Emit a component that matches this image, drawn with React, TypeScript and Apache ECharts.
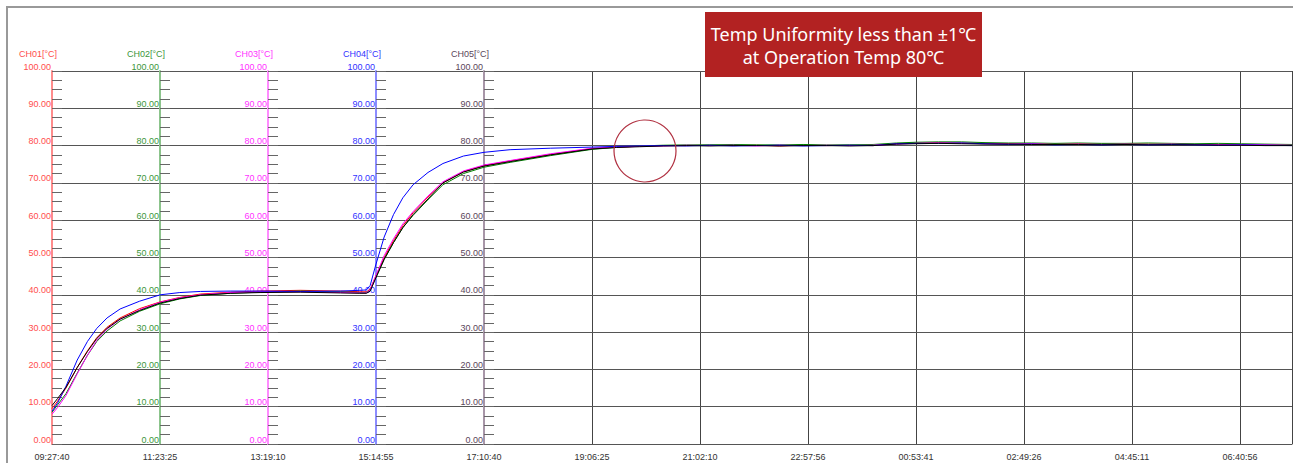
import React, { useEffect, useRef } from "react";
import * as echarts from "echarts";

// elapsed minutes since 09:27:40
const elapsedMin = [
  0, 6, 15, 27, 38, 48, 59, 73, 94, 116, 137, 159, 191, 223, 266, 309, 330, 337, 341, 347,
  356, 366, 376, 387, 403, 419, 441, 463, 491, 534, 579, 605, 630, 655, 680, 705, 730, 755,
  780, 805, 830, 855, 880, 905, 926, 950, 975, 1000, 1025, 1050, 1075, 1100, 1125, 1150,
  1175, 1200, 1225, 1250, 1275, 1300, 1329,
];

const ch01 = [
  9.5, 11.5, 15.0, 20.5, 25.0, 28.5, 31.3, 33.8, 36.3, 38.1, 39.3, 40.2, 40.7, 41.0, 41.2, 41.0, 40.8, 40.8, 41.5, 45.0,
  50.0, 54.5, 58.5, 62.0, 66.2, 70.0, 73.0, 74.6, 75.9, 77.6, 79.2, 79.6, 79.8, 80.0, 80.0, 80.1, 80.0, 80.1,
  79.9, 80.1, 80.0, 80.1, 80.0, 80.5, 80.7, 80.8, 80.7, 80.6, 80.5, 80.5, 80.4, 80.5, 80.4, 80.5,
  80.4, 80.4, 80.3, 80.3, 80.2, 80.2, 80.1,
];
const ch02 = [
  8.5, 10.5, 13.5, 19.0, 23.8, 27.5, 30.3, 33.0, 35.6, 37.6, 38.9, 39.8, 40.4, 40.7, 41.0, 40.8, 40.6, 40.6, 41.2, 44.5,
  49.5, 54.0, 58.0, 61.3, 65.5, 69.5, 72.5, 74.2, 75.5, 77.3, 79.0, 79.5, 79.9, 80.1, 80.2, 80.2, 80.3, 80.2,
  80.2, 80.3, 80.2, 80.2, 80.3, 80.7, 80.9, 81.0, 81.0, 80.8, 80.7, 80.7, 80.6, 80.7, 80.6, 80.6,
  80.7, 80.6, 80.5, 80.6, 80.5, 80.4, 80.3,
];
const ch03 = [
  8.0, 9.8, 13.0, 18.8, 23.8, 27.8, 30.8, 33.4, 36.0, 38.0, 39.2, 40.0, 40.6, 40.8, 40.8, 40.6, 40.5, 40.5, 41.3, 45.0,
  50.5, 55.0, 59.0, 62.3, 66.5, 70.3, 73.2, 74.8, 76.0, 77.8, 79.3, 79.6, 79.8, 79.9, 80.1, 80.0, 80.1, 79.9,
  80.1, 80.0, 80.1, 80.0, 80.1, 80.4, 80.6, 80.7, 80.6, 80.5, 80.4, 80.5, 80.3, 80.4, 80.3, 80.4,
  80.3, 80.4, 80.3, 80.2, 80.3, 80.2, 80.1,
];
const ch04 = [
  8.8, 11.0, 15.5, 22.5, 27.5, 31.0, 33.8, 36.2, 38.3, 40.0, 40.6, 40.9, 41.0, 41.0, 40.9, 41.0, 41.2, 41.3, 42.5, 48.0,
  55.5, 61.5, 66.0, 69.5, 72.8, 75.2, 77.2, 78.2, 78.9, 79.3, 79.6, 79.8, 79.9, 80.0, 79.9, 80.1, 79.9, 80.0,
  80.1, 79.9, 80.0, 80.1, 80.0, 80.5, 80.6, 80.6, 80.7, 80.5, 80.3, 80.4, 80.2, 80.3, 80.2, 80.3,
  80.2, 80.3, 80.2, 80.1, 80.2, 80.1, 80.0,
];
const ch05 = [
  10.3, 12.2, 15.2, 20.5, 24.8, 28.3, 31.0, 33.5, 35.8, 37.8, 39.0, 39.9, 40.4, 40.6, 40.7, 40.5, 40.4, 40.4, 41.0, 44.5,
  49.5, 54.0, 58.0, 61.5, 65.7, 70.0, 72.9, 74.5, 75.7, 77.5, 79.1, 79.5, 79.7, 79.9, 80.0, 79.9, 80.0, 80.0,
  79.9, 80.0, 80.0, 79.9, 80.0, 80.4, 80.5, 80.6, 80.5, 80.4, 80.4, 80.3, 80.3, 80.3, 80.2, 80.3,
  80.2, 80.2, 80.2, 80.1, 80.1, 80.0, 80.0,
];

const channelNames = ["CH01[°C]", "CH02[°C]", "CH03[°C]", "CH04[°C]", "CH05[°C]"];
const channelData = [ch01, ch02, ch03, ch04, ch05];
const lineColors = ["#ff0000", "#008000", "#ff00ff", "#0000ff", "#000000"];
const labelColors = ["#ff4d4d", "#3c963c", "#ff33ff", "#3333ff", "#5a465a"];
const axisColors = ["#ff8c8c", "#8cc48c", "#ff8cff", "#8c8cff", "#a896a8"];

const xTickLabels = [
  "09:27:40", "11:23:25", "13:19:10", "15:14:55", "17:10:40", "19:06:25",
  "21:02:10", "22:57:56", "00:53:41", "02:49:26", "04:45:11", "06:40:56",
];
const X_INTERVAL = 115.752; // minutes between time ticks
const X_MAX = (X_INTERVAL * 1240) / 108;

export default function App() {
  const ref = useRef<HTMLDivElement>(null);
  useEffect(() => {
    if (!ref.current) return;
    const chart = echarts.init(ref.current, null, { renderer: "svg" });
    const font = "'Liberation Sans', Arial, sans-serif";
    const noteFont = "'Noto Sans', 'Noto Sans CJK KR', sans-serif";
    const yAxes = channelNames.map((name, i) => ({
      type: "value",
      min: 0,
      max: 100,
      interval: 10,
      position: "left",
      offset: -108 * i,
      name,
      nameLocation: "end",
      nameGap: 13,
      nameTextStyle: {
        color: labelColors[i],
        fontSize: 9,
        fontFamily: font,
        align: "center",
        padding: [0, 28, 0, 0],
      },
      axisLine: { show: true, lineStyle: { color: axisColors[i], width: 2 } },
      axisTick: { show: true, inside: true, length: 10, lineStyle: { color: "#666" } },
      minorTick: { show: true, splitNumber: 4, length: 10, lineStyle: { color: "#666" } },
      axisLabel: {
        color: labelColors[i],
        fontSize: 9,
        fontFamily: font,
        margin: 1,
        verticalAlign: "bottom",
        formatter: (v: number) => v.toFixed(2),
      },
      splitLine: { show: i === 0, lineStyle: { color: "#555", width: 1 } },
      z: 3,
    }));
    const series = channelNames.map((name, i) => ({
      name,
      type: "line",
      yAxisIndex: i,
      showSymbol: false,
      symbol: "none",
      lineStyle: { color: lineColors[i], width: 1 },
      itemStyle: { color: lineColors[i] },
      data: elapsedMin.map((t, k) => [t, channelData[i][k]]),
      z: 4,
    }));
    chart.setOption({
      animation: false,
      backgroundColor: "#ffffff",
      grid: { left: 52, top: 71, right: 1, bottom: 19, containLabel: false },
      xAxis: {
        type: "value",
        min: 0,
        max: X_MAX,
        interval: X_INTERVAL,
        axisLine: { show: true, lineStyle: { color: "#444", width: 1 } },
        axisTick: { show: false },
        axisLabel: {
          color: "#333",
          fontSize: 9,
          fontFamily: font,
          margin: 8,
          showMaxLabel: false,
          formatter: (v: number) => {
            const idx = Math.round(v / X_INTERVAL);
            if (Math.abs(v - idx * X_INTERVAL) > 0.5) return "";
            return xTickLabels[idx] ?? "";
          },
        },
        splitLine: { show: true, lineStyle: { color: "#444", width: 1 } },
      },
      yAxis: yAxes,
      series,
      graphic: [
        {
          type: "polyline",
          shape: { points: [[7, 463], [7, 7], [1293, 7]] },
          style: { stroke: "#999", lineWidth: 2, fill: "none" },
          z: 100,
        },
        {
          type: "circle",
          shape: { cx: 645, cy: 151, r: 31 },
          style: { stroke: "#b03040", lineWidth: 1.2, fill: "none" },
          z: 100,
        },
        {
          type: "rect",
          shape: { x: 705, y: 12, width: 277, height: 65 },
          style: { fill: "#b22222" },
          z: 100,
        },
        {
          type: "text",
          x: 843.5,
          y: 34,
          style: {
            text: "Temp Uniformity less than ±1℃",
            fill: "#ffffff",
            fontSize: 18,
            fontFamily: noteFont,
            align: "center",
            verticalAlign: "middle",
          },
          z: 101,
        },
        {
          type: "text",
          x: 843.5,
          y: 57,
          style: {
            text: "at Operation Temp 80℃",
            fill: "#ffffff",
            fontSize: 18,
            fontFamily: noteFont,
            align: "center",
            verticalAlign: "middle",
          },
          z: 101,
        },
      ],
    });
    return () => chart.dispose();
  }, []);
  return (
    <div
      ref={ref}
      style={{ position: "fixed", left: 0, top: 0, width: 1293, height: 463, background: "#fff" }}
    />
  );
}
